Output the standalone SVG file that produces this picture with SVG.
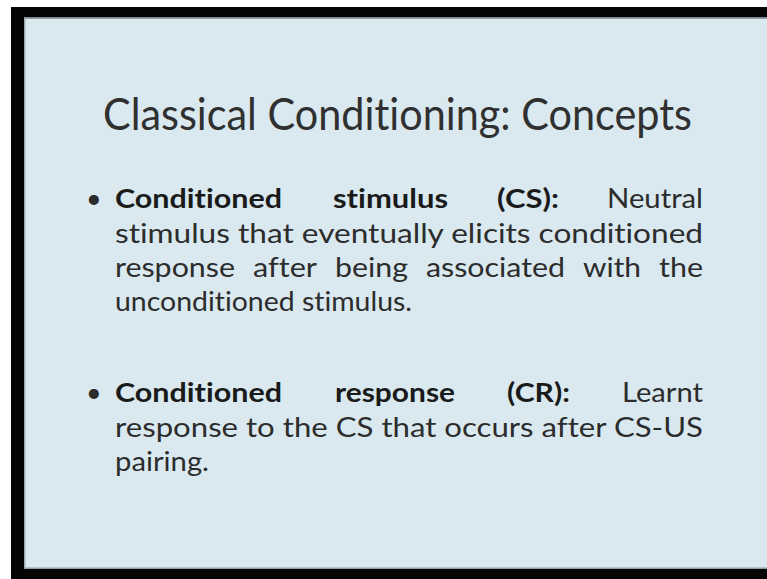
<svg xmlns="http://www.w3.org/2000/svg" width="767" height="579" viewBox="0 0 767 579">
  <style>
    text { font-variant-ligatures: none; font-feature-settings: "liga" 0, "clig" 0; }
    .title { font-family: Lato, "Liberation Sans", sans-serif; font-size: 44px; fill: #303030; }
    .body { font-family: Lato, "Liberation Sans", sans-serif; font-size: 27px; fill: #2c2c2c; }
    .term { font-weight: bold; fill: #1a1a1a; }
  </style>

  <!-- page and screen frame -->
  <rect x="0" y="0" width="767" height="579" fill="#ffffff"/>
  <rect x="11" y="7" width="756" height="572" fill="#050505"/>
  <rect x="24" y="17.5" width="743" height="551.5" fill="#d9e9ef"/>
  <path d="M24 18.2 H767" stroke="#8f9ea6" stroke-width="1.4" fill="none"/>
  <path d="M24.7 17.5 V569" stroke="#9aa9b0" stroke-width="1.4" fill="none"/>
  <path d="M24 568.3 H767" stroke="#8f9ea6" stroke-width="1.4" fill="none"/>

  <!-- heading -->
  <g id="heading">
    <text class="title" x="103" y="130" textLength="589" lengthAdjust="spacingAndGlyphs">Classical Conditioning: Concepts</text>
  </g>

  <!-- first bullet: conditioned stimulus -->
  <g id="bullet-cs" class="body">
    <text x="86" y="208">•</text>
    <text class="term" x="115" y="208" textLength="167" lengthAdjust="spacingAndGlyphs">Conditioned</text>
    <text class="term" x="333" y="208" textLength="115" lengthAdjust="spacingAndGlyphs">stimulus</text>
    <text class="term" x="497" y="208" textLength="62" lengthAdjust="spacingAndGlyphs">(CS):</text>
    <text x="607" y="208" textLength="96" lengthAdjust="spacingAndGlyphs">Neutral</text>
    <text x="115" y="243" textLength="588" lengthAdjust="spacingAndGlyphs">stimulus that eventually elicits conditioned</text>
    <text x="115" y="277" textLength="120" lengthAdjust="spacingAndGlyphs">response</text>
    <text x="253" y="277" textLength="64" lengthAdjust="spacingAndGlyphs">after</text>
    <text x="335" y="277" textLength="73" lengthAdjust="spacingAndGlyphs">being</text>
    <text x="426" y="277" textLength="139" lengthAdjust="spacingAndGlyphs">associated</text>
    <text x="583" y="277" textLength="58" lengthAdjust="spacingAndGlyphs">with</text>
    <text x="659" y="277" textLength="44" lengthAdjust="spacingAndGlyphs">the</text>
    <text x="115" y="311" textLength="297" lengthAdjust="spacingAndGlyphs">unconditioned stimulus.</text>
  </g>

  <!-- second bullet: conditioned response -->
  <g id="bullet-cr" class="body">
    <text x="86" y="402">•</text>
    <text class="term" x="115" y="402" textLength="167" lengthAdjust="spacingAndGlyphs">Conditioned</text>
    <text class="term" x="335" y="402" textLength="120" lengthAdjust="spacingAndGlyphs">response</text>
    <text class="term" x="507" y="402" textLength="63" lengthAdjust="spacingAndGlyphs">(CR):</text>
    <text x="622" y="402" textLength="81" lengthAdjust="spacingAndGlyphs">Learnt</text>
    <text x="115" y="437" textLength="588" lengthAdjust="spacingAndGlyphs">response to the CS that occurs after CS-US</text>
    <text x="115" y="471" textLength="94" lengthAdjust="spacingAndGlyphs">pairing.</text>
  </g>
</svg>
